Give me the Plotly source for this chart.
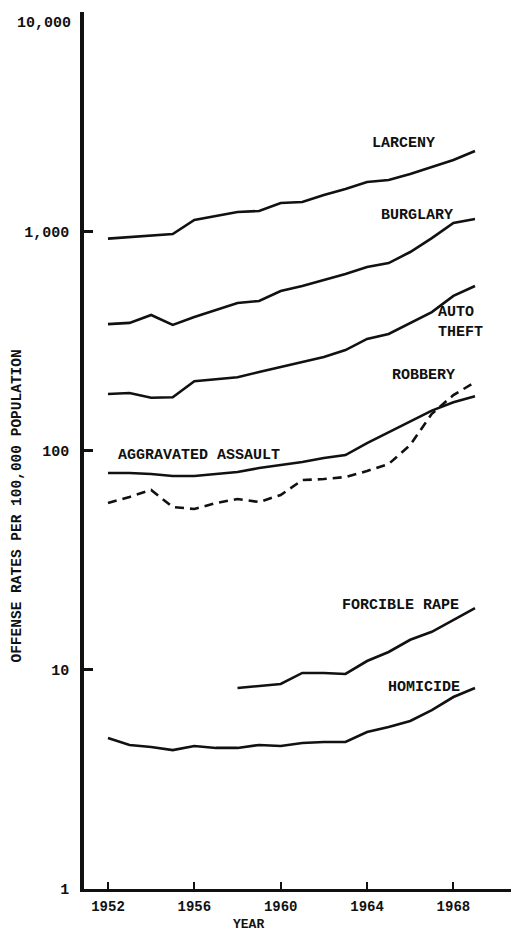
import plotly.graph_objects as go

years = list(range(1952, 1970))
rape_years = list(range(1958, 1970))

larceny = [925, 942, 961, 971, 1125, 1174, 1224, 1237, 1346, 1359, 1463, 1559, 1678, 1714, 1824, 1964, 2114, 2323]
burglary = [377, 382, 415, 374, 406, 437, 471, 481, 534, 563, 600, 638, 687, 716, 804, 931, 1091, 1137]
auto_theft = [181, 183, 174, 175, 207, 212, 216, 228, 240, 253, 267, 287, 323, 340, 382, 428, 507, 563]
agg_assault = [78.9, 79.0, 78.1, 76.5, 76.5, 78.0, 79.8, 83.2, 85.9, 88.6, 92.4, 95.3, 108, 121, 136, 152, 166, 177]
robbery = [57.6, 61.4, 66.1, 55.2, 54.1, 57.6, 60.1, 58.2, 62.7, 73.3, 74.1, 75.7, 80.6, 86.8, 106, 147, 179, 205]
forcible_rape = [8.26, 8.43, 8.61, 9.67, 9.67, 9.57, 10.96, 12.05, 13.7, 14.9, 16.9, 19.1]
homicide = [4.88, 4.54, 4.44, 4.30, 4.49, 4.40, 4.40, 4.54, 4.49, 4.63, 4.68, 4.68, 5.20, 5.48, 5.84, 6.55, 7.51, 8.26]

y_tickvals = [1, 10, 100, 1000, 10000]
# the top label is drawn as an annotation so it is not clipped at the page edge
y_ticktext = ["1", "10", "100", "1,000", ""]
x_tickvals = [1952, 1956, 1960, 1964, 1968]

FONT = "Liberation Mono"
INK = "#111111"

fig = go.Figure()

solid = [
    (years, larceny),
    (years, burglary),
    (years, auto_theft),
    (years, agg_assault),
    (rape_years, forcible_rape),
    (years, homicide),
]
for xs, ys in solid:
    fig.add_trace(go.Scatter(x=xs, y=ys, mode="lines",
                             line=dict(color=INK, width=2.6), showlegend=False))

fig.add_trace(go.Scatter(x=years, y=robbery, mode="lines",
                         line=dict(color=INK, width=2.6, dash="9px,6px"), showlegend=False))

# series labels: (text, year, log10 value, anchor)
labels = [
    ("LARCENY", 1965.7, 3.40, "center"),
    ("BURGLARY", 1966.3, 3.07, "center"),
    ("AUTO<br>THEFT", 1967.2, 2.586, "left"),
    ("ROBBERY", 1966.6, 2.34, "center"),
    ("AGGRAVATED ASSAULT", 1956.2, 1.975, "center"),
    ("FORCIBLE RAPE", 1965.55, 1.295, "center"),
    ("HOMICIDE", 1966.65, 0.917, "center"),
]
for text, x, y, anchor in labels:
    fig.add_annotation(x=x, y=y, text=text, showarrow=False, xanchor=anchor, align="left",
                       font=dict(family=FONT, size=15, color=INK, weight="bold"))

fig.add_annotation(xref="paper", yref="paper", x=-0.026, y=1, xanchor="right", yanchor="top",
                   yshift=-1, text="10,000", showarrow=False,
                   font=dict(family=FONT, size=15, color=INK, weight="bold"))
fig.add_annotation(xref="paper", yref="paper", x=-0.18, y=0.437,
                   text="OFFENSE RATES PER 100,000 POPULATION", textangle=-90,
                   showarrow=False, font=dict(family=FONT, size=14.5, color=INK, weight="bold"))
fig.add_annotation(xref="x", yref="paper", x=1958.5, y=-0.03, yanchor="top", text="YEAR",
                   showarrow=False, font=dict(family=FONT, size=13, color=INK, weight="bold"))

fig.update_xaxes(range=[1950.89, 1970.76], tickvals=x_tickvals, ticks="inside",
                 ticklen=7, tickwidth=2, tickcolor=INK, showline=True, linecolor=INK,
                 linewidth=2.5, showgrid=False, zeroline=False, ticklabelstandoff=2,
                 automargin=False,
                 tickfont=dict(family=FONT, size=14, color=INK, weight="bold"))
fig.update_yaxes(type="log", range=[0, 4], tickvals=y_tickvals, ticktext=y_ticktext,
                 ticks="inside", ticklen=9, tickwidth=2.5, tickcolor=INK, showline=True,
                 linecolor=INK, linewidth=3.5, showgrid=False, zeroline=False,
                 ticklabelstandoff=8, ticklabeloverflow="allow", automargin=False,
                 tickfont=dict(family=FONT, size=15, color=INK, weight="bold"))

# page adds an 8px body margin, so the figure is a little smaller than the window
fig.update_layout(width=511, height=923, margin=dict(l=76, r=6, t=4, b=42),
                  plot_bgcolor="white", paper_bgcolor="white", showlegend=False)

fig.write_html("out.html")
